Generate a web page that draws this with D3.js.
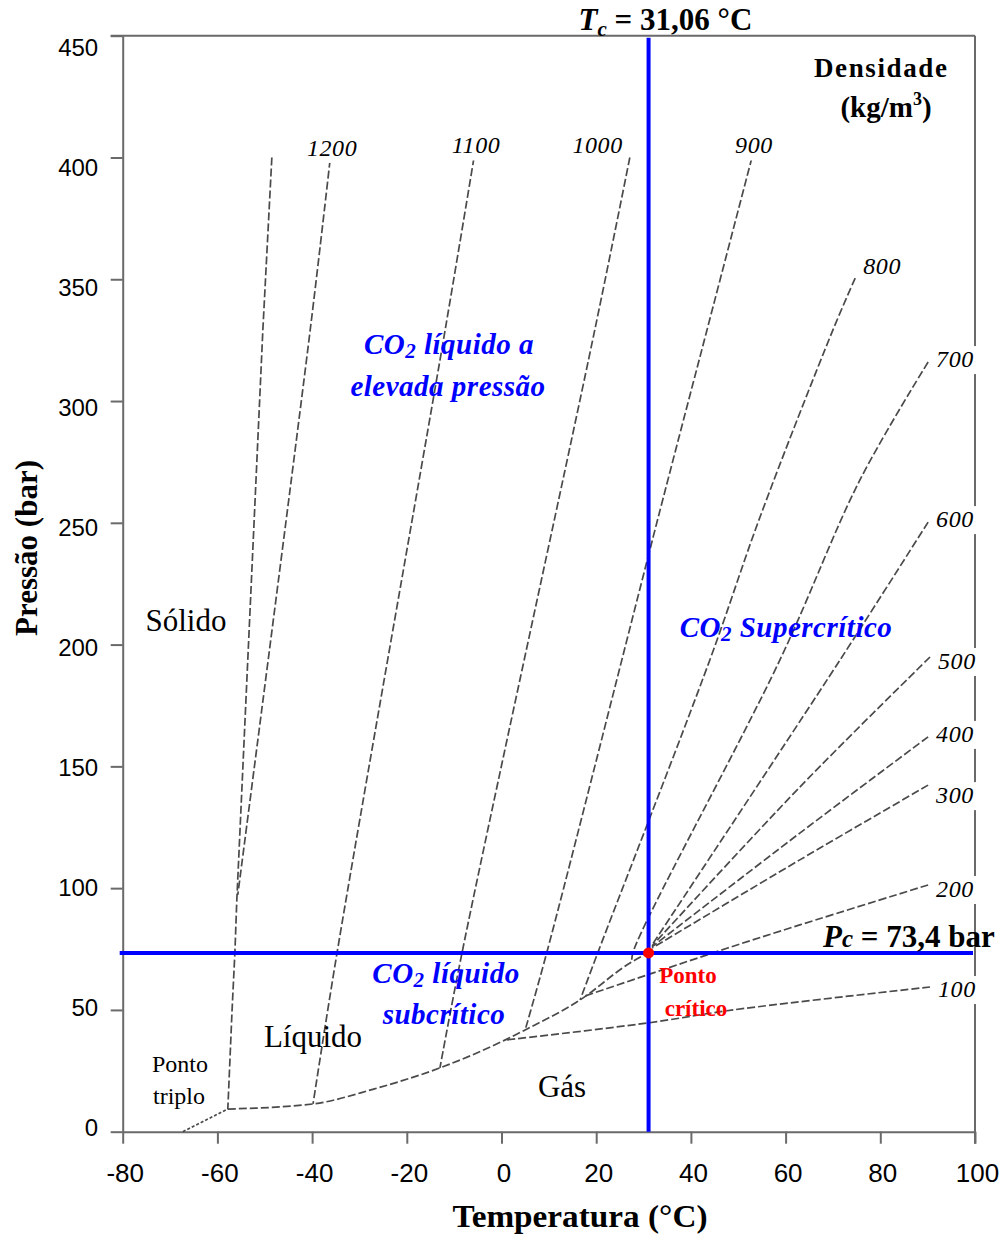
<!DOCTYPE html>
<html>
<head>
<meta charset="UTF-8">
<script src="https://d3js.org/d3.v7.min.js"></script>
<style>
  body { margin: 0; background: #fff; }
  svg text { font-family: 'Liberation Serif', 'Times New Roman', serif; }
  .yaxis text { font-family: 'Liberation Sans', Arial, sans-serif; font-size: 24px; fill: #000; }
  .xaxis text { font-family: 'Liberation Sans Narrow', 'Liberation Sans', Arial, sans-serif; font-size: 26px; fill: #000; }
  .domain, .tick line { stroke: #6a6a6a; stroke-width: 2; }
</style>
</head>
<body>
<svg id="chart" width="1003" height="1235"></svg>
<script>
// ---- data (T in °C, P in bar) ----
const pressTicks = [0, 50, 100, 150, 200, 250, 300, 350, 400, 450];
const tempTicks = [-80, -60, -40, -20, 0, 20, 40, 60, 80, 100];
const Tc = 31.06, Pc = 73.4;

// phase boundaries
const sublimation = [[-67.3, 0], [-57.8, 9.3]];
const saturation = [[-57.8, 9.3], [-39.8, 11.4], [-27, 17.5], [-13.0, 26.2], [0.7, 37.6], [5.0, 41.8],
                    [16.6, 54.1], [27.5, 69.7], [31.06, 73.4]];
const melting = [[-48.5, 400], [-50.4, 329.2], [-55.9, 95.1], [-56.3, 73.8], [-56.9, 50], [-57.8, 9.3]];

// isochores, listed from the labelled end
const densities = [1200, 1100, 1000, 900, 800, 700, 600, 500, 400, 300, 200, 100];
const rho1200 = [[-36.2, 399], [-40.4, 329.2], [-55.7, 97.2]];
const rho1100 = [[-5.8, 400], [-11.9, 329.2], [-34.7, 73.8], [-39.8, 11.4]];
const rho1000 = [[27.1, 400], [19.7, 329.2], [-8.3, 73.8], [-13.0, 26.2]];
const rho900  = [[52.9, 400], [43.4, 329.2], [33.5, 255.3], [9.6, 73.8], [5.0, 41.8]];
const rho800  = [[74.7, 350.5], [70.0, 329.2], [54.6, 252.4], [44.0, 193.7], [20.4, 73.8], [16.6, 54.1]];
const rho700  = [[90.1, 316.0], [75.7, 267.6], [58.8, 193.7], [27.8, 73.8], [27.5, 69.7]];
const rho600  = [[90.1, 250.3], [71.5, 193.7], [31.8, 76.7]];
const rho500  = [[90.5, 194.9], [63.0, 141.5], [31.8, 76.3]];
const rho400  = [[90.1, 162.1], [63.0, 122.6], [31.8, 75.9]];
const rho300  = [[90.1, 142.3], [63.0, 111.6], [31.8, 75.4]];
const rho200  = [[90.1, 101.3], [63.0, 84.9], [47.6, 75.3], [17.6, 55.7]];
const rho100  = [[90.5, 59.4], [48.9, 50.0], [30.7, 44.6], [0.7, 37.6]];
const isoPoints = [rho1200, rho1100, rho1000, rho900, rho800, rho700, rho600, rho500, rho400, rho300, rho200, rho100];

// ---- chart ----
const svg = d3.select('#chart');

const x = d3.scaleLinear().domain([-80, 100]).range([122.7, 975]);
const y = d3.scaleLinear().domain([0, 450]).range([1131.7, 35.7]);
// tick labels in the source sit on a slightly tighter grid than the ticks
const yLab = d3.scaleLinear().domain([0, 450]).range([1127, 47]);

// frame: top and right border
svg.append('line')
  .attr('x1', x(-80) - 12).attr('x2', x(100))
  .attr('y1', y(450)).attr('y2', y(450))
  .attr('stroke', '#6a6a6a').attr('stroke-width', 2);
svg.append('line')
  .attr('x1', x(100)).attr('x2', x(100))
  .attr('y1', y(450)).attr('y2', y(0) + 12)
  .attr('stroke', '#6a6a6a').attr('stroke-width', 2);

// axes
svg.append('g')
  .attr('class', 'yaxis')
  .attr('transform', `translate(${x(-80)},0)`)
  .call(d3.axisLeft(y).tickValues(pressTicks).tickSize(12).tickSizeOuter(0).tickPadding(12.5))
  .selectAll('text')
  .attr('dy', d => (yLab(d) - y(d)) + 8);

svg.append('g')
  .attr('class', 'xaxis')
  .attr('transform', `translate(0,${y(0)})`)
  .call(d3.axisBottom(x).tickValues(tempTicks).tickSize(12).tickSizeOuter(0).tickPadding(20)
    .tickFormat(d => String(d)))
  .selectAll('text')
  .attr('dx', 2);

// curves
const line = d3.line().x(d => x(d[0])).y(d => y(d[1]));
const smooth = d3.line().x(d => x(d[0])).y(d => y(d[1])).curve(d3.curveCatmullRom.alpha(0.5));
const curveG = svg.append('g')
  .attr('fill', 'none')
  .attr('stroke', '#4a4a4a')
  .attr('stroke-width', 1.7)
  .attr('stroke-dasharray', '8,3');

curveG.append('path').attr('d', line(sublimation)).attr('stroke-dasharray', '3,2');
curveG.append('path').attr('d', d3.line().x(d => x(d[0])).y(d => y(d[1])).curve(d3.curveMonotoneX)(saturation));
curveG.append('path').attr('d', line(melting));
curveG.selectAll('path.iso')
  .data(isoPoints)
  .join('path')
  .attr('class', 'iso')
  .attr('d', d => smooth(d));

// critical lines
svg.append('line')
  .attr('x1', x(Tc)).attr('x2', x(Tc))
  .attr('y1', y(450) + 2).attr('y2', y(0))
  .attr('stroke', '#0000ff').attr('stroke-width', 4);
svg.append('line')
  .attr('x1', x(-80) - 3).attr('x2', x(100) - 2)
  .attr('y1', y(Pc)).attr('y2', y(Pc))
  .attr('stroke', '#0000ff').attr('stroke-width', 4);
svg.append('circle')
  .attr('cx', x(Tc)).attr('cy', y(Pc)).attr('r', 5.5)
  .attr('fill', '#ff0000');

// isochore labels with white boxes
const sideDy = {800: -4, 300: 18, 200: 12, 100: 10, 500: 12};
const labG = svg.append('g');
densities.forEach((rho, i) => {
  const end = isoPoints[i][0];
  const px = x(end[0]), py = y(end[1]);
  const top = end[1] >= 399;
  const g = labG.append('g');
  const t = g.append('text')
    .attr('font-style', 'italic')
    .attr('font-size', 24)
    .attr('letter-spacing', 0.6)
    .attr('fill', '#000')
    .text(rho);
  if (top) {
    if (rho === 1000) t.attr('x', px - 7).attr('text-anchor', 'end');
    else t.attr('x', px + 2).attr('text-anchor', 'middle');
    t.attr('y', py - 4);
  } else {
    t.attr('x', px + 8).attr('y', py + (sideDy[rho] !== undefined ? sideDy[rho] : 5));
  }
  const b = t.node().getBBox();
  g.insert('rect', 'text')
    .attr('x', b.x - 3).attr('y', b.y)
    .attr('width', b.width + (top ? 6 : 12)).attr('height', b.height + 2)
    .attr('fill', '#fff');
});

// critical value labels
const tcText = svg.append('text')
  .attr('x', x(Tc) - 70).attr('y', 30)
  .attr('font-weight', 'bold').attr('font-size', 31);
tcText.append('tspan').attr('font-style', 'italic').text('T');
tcText.append('tspan').attr('font-style', 'italic').attr('font-size', 21).attr('dy', 6).text('c');
tcText.append('tspan').attr('dy', -6).text(' = 31,06 °C');

const pcText = svg.append('text')
  .attr('x', 823).attr('y', y(Pc) - 6)
  .attr('font-weight', 'bold').attr('font-size', 31);
pcText.append('tspan').attr('font-style', 'italic').text('P');
pcText.append('tspan').attr('font-style', 'italic').attr('font-size', 25).text('c');
pcText.append('tspan').text(' = 73,4 bar');

// legend title
svg.append('text')
  .attr('x', 814).attr('y', 77)
  .attr('font-weight', 'bold').attr('font-size', 27)
  .attr('textLength', 133).attr('lengthAdjust', 'spacing')
  .text('Densidade');
const unitT = svg.append('text')
  .attr('x', 886).attr('y', 117)
  .attr('text-anchor', 'middle')
  .attr('font-weight', 'bold').attr('font-size', 29);
unitT.append('tspan').text('(kg/m');
unitT.append('tspan').attr('font-size', 18).attr('dy', -12).text('3');
unitT.append('tspan').attr('dy', 12).text(')');

// region labels
function blueLabel(xp, yp, parts) {
  const t = svg.append('text')
    .attr('x', xp).attr('y', yp)
    .attr('text-anchor', 'middle')
    .attr('font-weight', 'bold').attr('font-style', 'italic')
    .attr('font-size', 29).attr('letter-spacing', 0.5).attr('fill', '#0000ff');
  parts.forEach(p => {
    if (p.sub) {
      t.append('tspan').attr('font-size', 21).attr('dy', 4).text(p.text);
      t.append('tspan').attr('dy', -4).text(p.after);
    } else {
      t.append('tspan').text(p.text);
    }
  });
}
blueLabel(449, 354, [{text: 'CO'}, {sub: true, text: '2', after: ' líquido a'}]);
blueLabel(448, 396, [{text: 'elevada pressão'}]);
blueLabel(786, 637, [{text: 'CO'}, {sub: true, text: '2', after: ' Supercrítico'}]);
blueLabel(446, 983, [{text: 'CO'}, {sub: true, text: '2', after: ' líquido'}]);
blueLabel(444, 1024, [{text: 'subcrítico'}]);

const blackLabels = [
  {t: 'Sólido', x: 186, y: 631, s: 31},
  {t: 'Líquido', x: 313, y: 1047, s: 31},
  {t: 'Gás', x: 562, y: 1097, s: 31},
  {t: 'Ponto', x: 180, y: 1072, s: 24},
  {t: 'triplo', x: 179, y: 1104, s: 24}
];
svg.selectAll('text.region')
  .data(blackLabels)
  .join('text')
  .attr('class', 'region')
  .attr('x', d => d.x).attr('y', d => d.y)
  .attr('text-anchor', 'middle')
  .attr('font-size', d => d.s)
  .text(d => d.t);

svg.append('text')
  .attr('x', 688).attr('y', 983)
  .attr('text-anchor', 'middle')
  .attr('font-weight', 'bold').attr('font-size', 23).attr('fill', '#ff0000')
  .text('Ponto');
svg.append('text')
  .attr('x', 696).attr('y', 1016)
  .attr('text-anchor', 'middle')
  .attr('font-weight', 'bold').attr('font-size', 23).attr('fill', '#ff0000')
  .text('crítico');

// axis titles
svg.append('text')
  .attr('x', 580).attr('y', 1227)
  .attr('text-anchor', 'middle')
  .attr('font-weight', 'bold').attr('font-size', 32)
  .attr('textLength', 255).attr('lengthAdjust', 'spacingAndGlyphs')
  .text('Temperatura (°C)');
svg.append('text')
  .attr('transform', 'translate(37,548) rotate(-90)')
  .attr('text-anchor', 'middle')
  .attr('font-weight', 'bold').attr('font-size', 31)
  .text('Pressão (bar)');
</script>
</body>
</html>
